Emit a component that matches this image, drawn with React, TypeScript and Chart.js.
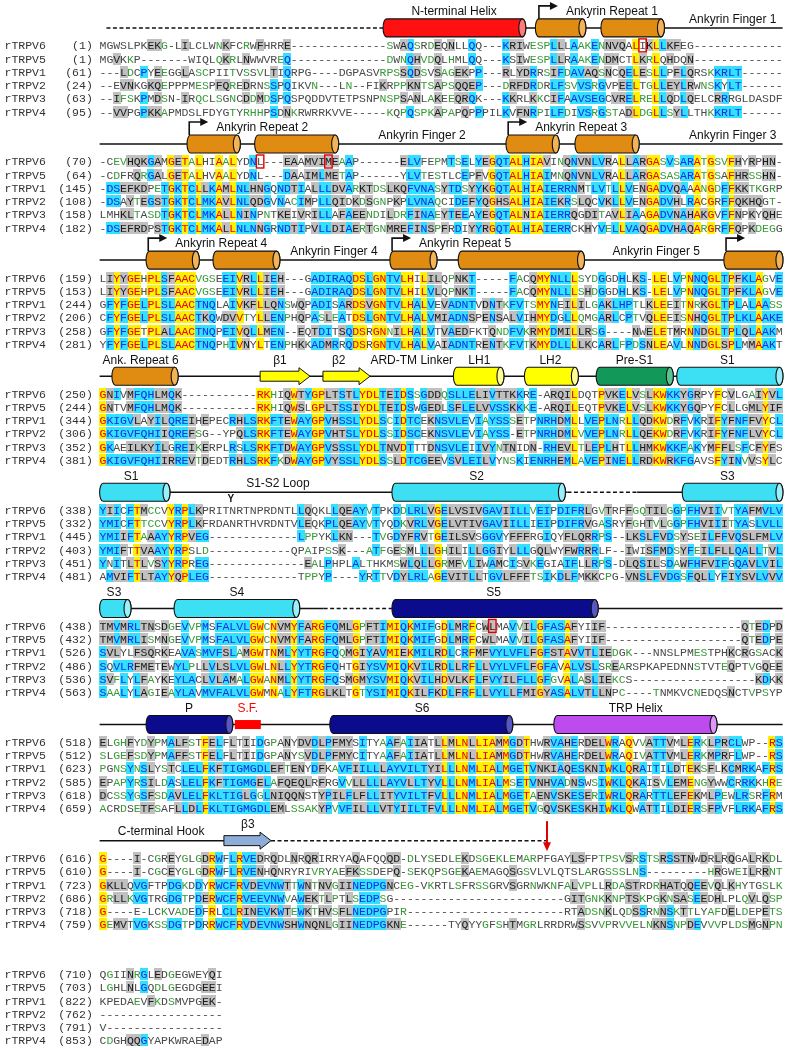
import React, { useEffect, useRef } from 'react';
import { Chart, registerables } from 'chart.js';

Chart.register(...registerables);

const gap = (n: number) => '-'.repeat(n);

// ---------------- DATA ----------------
const NAMES = ['rTRPV6', 'rTRPV5', 'rTRPV1', 'rTRPV2', 'rTRPV3', 'rTRPV4'];

const BLOCK_STARTS = [
  [1, 1, 61, 24, 63, 95],
  [70, 64, 145, 108, 158, 182],
  [159, 153, 244, 206, 258, 281],
  [250, 244, 344, 306, 352, 381],
  [338, 332, 445, 403, 451, 481],
  [438, 432, 526, 486, 536, 563],
  [518, 512, 623, 585, 618, 659],
  [616, 610, 723, 686, 718, 759],
  [710, 703, 822, 762, 791, 853],
];

const BLOCK_WIDTHS = [100, 100, 100, 100, 100, 100, 100, 100, 18];

const TRPV6_SEQ = [
  'MGWSLPKEKG-LILCLWNKFCRWFHRRE' + gap(14) + 'SWAQSRDEQNLLQQ---KRIWESPLLLAAKENNVQALIKLLKFEG' + gap(13),
  '-CEVHQKGAMGETALHIAALYDNL---EAAMVIMEAAP' + gap(6) + 'ELVFEPMTSELYEGQTALHIAVINQNVNLVRALLARGASVSARATGSVFHYRPHN-',
  'LIYYGEHPLSFAACVGSEEIVRLLIEH---GADIRAQDSLGNTVLHILILQPNKT-----FACQMYNLLLSYDGGDHLKS-LELVPNNQGLTPFKLAGVE',
  'GNIVMFQHLMQK' + gap(11) + 'RKHIQWTYGPLTSTLYDLTEIDSSGDDQSLLELIVTTKKRE-ARQILDQTPVKELVSLKWKKYGRPYFCVLGAIYVL',
  'YIICFTMCCVYRPLKPRITNRTNPRDNTLLQQKLLQEAYVTPKDDLRLVGELVSIVGAVIILLVEIPDIFRLGVTRFFGQTILGGPFHVIIVTYAFMVLV',
  'TMVMRLTNSDGEVVPMSFALVLGWCNVMYFARGFQMLGPFTIMIQKMIFGDLMRFCWLMAVVILGFASAFYIIF' + gap(20) + 'QTEDPD',
  'ELGHFYDYPMALFSTFELFLTIIDGPANYDVDLPFMYSITYAAFAIIATLLMLNLLIAMMGDTHWRVAHERDELWRAQVVATTVMLERKLPRCLWP--RS',
  'G----I-CGREYGLGDRWFLRVEDRQDLNRQRIRRYAQAFQQQD-DLYSEDLEKDSGEKLEMARPFGAYLSFPTPSVSRSTSRSSTNWDRLRQGALRKDL',
  'QGIINRGLEDGEGWEYQI',
];

const TRPV5_SEQ = [
  'MGVKKP-------WIQLQKRLNWWVREQ' + gap(14) + 'DWNQHVDQLHMLQQ---KSIWESPLLRAAKENDMCTLKRLQHDQN' + gap(13),
  '-CDFRQRGALGETALHVAALYDNL---DAAIMLMETAP' + gap(6) + 'YLVTESTLCEPFVGQTALHIAIMNQNVNLVRALLARGASASARATGSAFHRSSHN-',
  'LIYYGEHPLSFAACVGSEEIVRLLIEH---GADIRAQDSLGNTVLHILVLQPNKT-----FACQMYNLLLSHDGGDHLKS-LELVPNNQGLTPFKLAGVE',
  'GNTVMFQHLMQK' + gap(11) + 'RKHIQWSLGPLTSSIYDLTEIDSWGEDLSFLELVVSSKKKE-ARQILEQTPVKELVSLKWKKYGQPYFCLLGMLYIF',
  'YMICFTTCCVYRPLKFRDANRTHVRDNTVLEQKPLQEAYVTYQDKVRLVGELVTIVGAVIILLIEIPDIFRVGASRYFGHTVLGGPFHVIIITYASLVLL',
  'TMVMRLISMNGEVVPMSFALVLGWCNVMYFARGFQMLGPFTIMIQKMIFGDLMRFCWLMAVVILGFASAFYIIF' + gap(20) + 'QTEDPE',
  'SLGEFSDYPMAFFSTFELFLTIIDGPANYSVDLPFMYCITYAAFAIIATLLMLNLLIAMMGDTHWRVAHERDELWRAQIVATTVMLERKMPRFLWP--RS',
  'G----I-CGCEYGLGDRWFLRVENHQNRYRIVRYAEFKSSDEPQ-SEKQPSGEKAEMAGQSGSVLVLQTSLARGSSSLNS' + gap(9) + 'HRGWEILRRNT',
  'LGHLNLGQDLGEGDGEEI',
];

const TRPV1_SEQ = [
  '---LDCPYEEGGLASCPIITVSSVLTIQRPG----DGPASVRPSSQDSVSAGEKPP---RLYDRRSIFDAVAQSNCQELESLLPFLQRSKKRLT' + gap(6),
  '-DSEFKDPETGKTCLLKAMLNLHNGQNDTIALLLDVARKTDSLKQFVNASYTDSYYKGQTALHIAIERRNMTLVTLLVENGADVQAAANGDFFKKTKGRP',
  'GFYFGELPLSLAACTNQLAIVKFLLQNSWQPADISARDSVGNTVLHALVEVADNTVDNTKFVTSMYNEILILGAKLHPTLKLEEITNRKGLTPLALAASS',
  'GKIGVLAYILQREIHEPECRHLSRKFTEWAYGPVHSSLYDLSCIDTCEKNSVLEVIAYSSSETPNRHDMLLVEPLNRLLQDKWDRFVKRIFYFNFFVYCL',
  'YMIIFTAAAYYRPVEG' + gap(13) + 'LPPYKLKN---TVGDYFRVTGEILSVSGGVYFFFRGIQYFLQRRPS--LKSLFVDSYSEILFFVQSLFMLV',
  'SVLYLFSQRKEAVASMVFSLAMGWTNMLYYTRGFQQMGIYAVMIEKMILRDLCRFMFVYLVFLFGFSTAVVTLIEDGK---NNSLPMESTPHKCRGSACK',
  'PGNSYNSLYSTCLELFKFTIGMGDLEFTENYDFKAVFIILLLAYVILTYILLLNMLIALMGETVNKIAQESKNIWKLQRAITILDTEKSFLKCMRKAFRS',
  'GKLLQVGFTPDGKDDYRWCFRVDEVNWTTWNTNVGIINEDPGNCEG-VKRTLSFRSSGRVSGRNWKNFALVPLLRDASTRDRHATQQEEVQLKHYTGSLK',
  'KPEDAEVFKDSMVPGEK-',
];

const TRPV2_SEQ = [
  '--EVNKGKQEPPPMESPFQREDRNSSPQIKVN---LN--FIKRPPKNTSAPSQQEP---DRFDRDRLFSVVSRGVPEELTGLLEYLRWNSKYLT' + gap(6),
  '-DSAYTEGSTGKTCLMKAVLNLQDGVNACIMPLLQIDKDSGNPKPLVNAQCIDEFYQGHSALHIAIEKRSLQCVKLLVENGADVHLRACGRFFQKHQGT-',
  'CFYFGELPLSLAACTKQWDVVTYLLENPHQPASLEATDSLGNTVLHALVMIADNSPENSALVIHMYDGLLQMGARLCPTVQLEEISNHQGLTPLKLAAKE',
  'GKIGVFQHIIQREFSG--YPQLSRKFTEWAYGPVHTSLYDLSSIDSCEKNSVLEVIAYSS-ETPNRHDMLVVEPLNRLLQEKWDRFVKRIFYFNFLVYCL',
  'YMIFTTVAAYYRPSLD' + gap(12) + 'QPAIPSSK---ATFGESMLLLGHILILLGGIYLLLGQLWYFWRRRLF--IWISFMDSYFEILFLLQALLTVL',
  'SQVLRFMETEWYLPLLVLSLVLGWLNLLYYTRGFQHTGIYSVMIQKVILRDLLRFLLVYLVFLFGFAVALVSLSREARSPKAPEDNNSTVTEQPTVGQEE',
  'EPAPYRSILDASLELFKFTIGMGELAFQEQLRFRGVVLLLLLAYVLLTYVLLLNMLIALMSETVNHVADNSWSIWKLQKAISVLEMENGYWWCRRKKHRE',
  'GRLLKVGTRGDGTPDERWCFRVEEVNWVAWEKTLPTLSEDPSG' + gap(25) + 'GITGNKKNPTSKPGKNSASEEDHLPLQVLQSP',
  gap(18),
];

const TRPV3_SEQ = [
  '--IFSKPMDSN-IRQCLSGNCDDMDSPQSPQDDVTETPSNPNSPSANLAKEEQRQK---KKRLKKCIFAAVSEGCVRELRELLQDLQELCRRRGLDASDF',
  'LMHKLTASDTGKTCLMKALLNINPNTKEIVRILLAFAEENDILDRFINAEYTEEAYEGQTALNIAIERRQGDITAVLIAAGADVNAHAKGVFFNPKYQHE',
  'GFYFGETPLALAACTNQPEIVQLLMEN--EQTDITSQDSRGNNILHALVTVAEDFKTQNDFVKRMYDMILLRSG----NWELETMRNNDGLTPLQLAAKM',
  'GKAEILKYILGREIKERPLRSLSRKFTDWAYGPVSSSLYDLTNVDTTTDNSVLEIIVYNTNIDN-RHEVLTLEPLHTLLHMKWKKFAKYMFFLSFCFYFS',
  'YNITLTLVSYYRPREG' + gap(14) + 'EALPHPLALTHKMSWLQLLGRMFVLIWAMCISVKEGIAIFLLRPS-DLQSILSDAWFHFVIFGQAVLVIL',
  'SVFLYLFAYKEYLACLVLAMALGWANMLYYTRGFQSMGMYSVMIQKVILHDVLKFLFVYILFLLGFGVALASLIEKCS' + gap(18) + 'KDKK',
  'DCSSYGSFSDAVLELFKLTIGLGGLNIQQNSTYPILFLFLLITYVILTFVLLLNMLIALMGETAENVSKESERIWRLQRARTTLEFEKMLPEWLRSRFRM',
  'G----E-LCKVADEDFRLCLRINEVKWTEWKTHVSFLNEDPGPIR' + gap(23) + 'RTADSNKLQDSSRNNSKTTLYAFDELDEPETS',
  'V' + gap(17),
];

const TRPV4_SEQ = [
  '--VVPGPKKAPMDSLFDYGTYRHHPSDNKRWRRKVVE-----KQPQSPKAPAPQPPPILKVFNRPILFDIVSRGSTADLDGLLSYLLTHKKRLT' + gap(6),
  '-DSEFRDPSTGKTCLMKALLNLNNGRNDTIPVLLDIAERTGNMREFINSPFRDIYYRGQTALHIAIERRCKHYVELLVAQGADVHAQARGRFFQPKDEGG',
  'YFYFGELPLSLAACTNQPHIVNYLTENPHKKADMRRQDSRGNTVLHALVAIADNTRENTKFVTKMYDLLLLKCARLFPDSNLEAVLNNDGLSPLMMAAKT',
  'GKIGVFQHIIRREVTDEDTRHLSRKFKDWAYGPVYSSLYDLSSLDTCGEEVSVLEILVYNSKIENRHEMLAVEPINELLRDKWRKFGAVSFYINVVSYLC',
  'AMVIFTLTAYYQPLEG' + gap(13) + 'TPPYP----YRTTVDYLRLAGEVITLLTGVLFFFTSIKDLFMKKCPG-VNSLFVDGSFQLLYFIYSVLVVV',
  'SAALYLAGIEAYLAVMVFALVLGWMNALYFTRGLKLTGTYSIMIQKILFKDLFRFLLVYLLFMIGYASALVTLLNPC----TNMKVCNEDQSNCTVPSYP',
  'ACRDSETFSAFLLDLFKLTIGMGDLEMLSSAKYPVVFILLLVTYIILTFVLLLNMLIALMGETVGQVSKESKHIWKLQWATTILDIERSFPVFLRKAFRS',
  'GEMVTVGKSSDGTPDRRWCFRVDEVNWSHWNQNLGIINEDPGKNE' + gap(6) + 'TYQYYGFSHTMGRLRRDRWSSVVPRVVELNKNSNPDEVVVPLDSMGNPN',
  'CDGHQQGYAPKWRAEDAP',
];

const SEQUENCES = [TRPV6_SEQ, TRPV5_SEQ, TRPV1_SEQ, TRPV2_SEQ, TRPV3_SEQ, TRPV4_SEQ];

// secondary-structure annotation (block, from column, to column, ...)
const BACKBONE: [number, number, number, boolean][] = [
  [0, 1, 41.5, true], [0, 62.4, 100, false],
  [1, 0, 100, false], [2, 0, 100, false], [3, 0, 100, false],
  [4, 0, 68.5, false], [4, 68.5, 78.7, true], [4, 78.7, 100, false],
  [5, 0, 32.8, false], [5, 32.8, 42.8, true], [5, 42.8, 100, false],
  [6, 0, 100, false],
  [7, 0, 18.2, false], [7, 25.1, 65.5, true],
];

const HELICES: [number, number, number, string][] = [
  [0, 41.5, 62.4, 'nterm'], [0, 63.8, 71.2, 'ank'], [0, 73.4, 82.7, 'ank'],
  [1, 12.8, 20.6, 'ank'], [1, 22.7, 35.0, 'ank'], [1, 59.5, 67.3, 'ank'], [1, 69.6, 79.0, 'ank'],
  [2, 6.8, 14.6, 'ank'], [2, 16.6, 26.4, 'ank'], [2, 42.5, 49.4, 'ank'], [2, 52.5, 71.0, 'ank'], [2, 91.4, 100.05, 'ank'],
  [3, 1.8, 11.5, 'ank'], [3, 51.8, 59.2, 'lh'], [3, 62.2, 70.1, 'lh'], [3, 72.7, 84.0, 'pre'], [3, 84.5, 100.05, 'tm'],
  [4, 0, 10.3, 'tm'], [4, 42.8, 68.2, 'tm'], [4, 85.3, 100.05, 'tm'],
  [5, 0, 4.6, 'tm'], [5, 10.9, 29.3, 'tm'], [5, 42.8, 73.0, 'pore'],
  [6, 6.8, 19.5, 'pore'], [6, 33.7, 60.5, 'pore'], [6, 66.5, 90.4, 'trp'],
];

const STRANDS: [number, number, number, string][] = [
  [3, 23.5, 30.8, 'beta'], [3, 32.7, 39.6, 'beta'], [7, 18.2, 25.1, 'beta3'],
];

const REPEAT_STARTS: [number, number, string][] = [
  [0, 64.1, 'Ankyrin Repeat 1'], [1, 12.9, 'Ankyrin Repeat 2'], [1, 59.6, 'Ankyrin Repeat 3'],
  [2, 6.9, 'Ankyrin Repeat 4'], [2, 42.6, 'Ankyrin Repeat 5'], [2, 91.5, ''],
];

const TOP_LABELS: [number, number, string][] = [
  [0, 51.9, 'N-terminal Helix'],
  [3, 6.0, 'Ank. Repeat 6'], [3, 26.4, 'β1'], [3, 35.0, 'β2'], [3, 45.7, 'ARD-TM Linker'],
  [3, 55.6, 'LH1'], [3, 66.0, 'LH2'], [3, 78.3, 'Pre-S1'], [3, 91.9, 'S1'],
  [4, 4.6, 'S1'], [4, 55.2, 'S2'], [4, 91.9, 'S3'],
  [5, 2.1, 'S3'], [5, 20.1, 'S4'], [5, 57.7, 'S5'],
  [6, 13.1, 'P'], [6, 21.7, 'S.F.'], [6, 47.2, 'S6'], [6, 78.5, 'TRP Helix'],
  [7, 21.7, 'β3'],
];

const MID_LABELS: [number, number, string][] = [
  [0, 92.7, 'Ankyrin Finger 1'], [1, 47.2, 'Ankyrin Finger 2'], [1, 92.7, 'Ankyrin Finger 3'],
  [2, 34.3, 'Ankyrin Finger 4'], [2, 81.5, 'Ankyrin Finger 5'],
  [4, 26.1, 'S1-S2 Loop'], [7, 9.0, 'C-terminal Hook'],
];

const SELECTIVITY_FILTER: [number, number, number][] = [[6, 19.8, 23.6]];
const GLYCOSYLATION: [number, number][] = [[4, 19.2]];
const RED_ARROWS: [number, number][] = [[7, 65.5]];
const RED_BOXES: [number, number, number][] = [[0, 0, 79], [1, 0, 23], [1, 0, 33], [5, 0, 57]];

// ---------------- STYLE / LAYOUT ----------------
const PAGE_W = 787;
const PAGE_H = 1050;
const CHAR_W = 6.9;
const NAME_COLS = 14;
const ROW_H = 13.333;
const FIRST_ROW = 41.7 / ROW_H;
const BLOCK_STEP = 117 / ROW_H;

const MONO = '"Liberation Mono", "DejaVu Sans Mono", monospace';
const SANS = '"Liberation Sans", Arial, sans-serif';

const HELIX_COLORS: Record<string, [string, string]> = {
  nterm: ['#FF1111', '#FF7A7A'],
  ank: ['#E08B12', '#F2B457'],
  lh: ['#FFFF00', '#FFFF9A'],
  pre: ['#12995A', '#5CC48E'],
  tm: ['#3DDFF3', '#9AF0FA'],
  pore: ['#0B0B8E', '#5656C4'],
  trp: ['#BD4BEE', '#DC98F7'],
};
const STRAND_COLORS: Record<string, string> = { beta: '#FFFF00', beta3: '#8EADD8' };

const CELL_BG: Record<string, string> = { Y: '#FFF200', C: '#33E0FF', G: '#C0C0C0' };
const CELL_FG: Record<string, string> = { Y: '#E8000C', C: '#0F2FE0', G: '#1A1A1A', W: '#3A9A3A', '': '#4A4A4A' };

const STRONG = ['STA', 'NEQK', 'NHQK', 'NDEQ', 'QHRK', 'MILV', 'MILF', 'HY', 'FYW'];
const WEAK = ['CSA', 'ATV', 'SAG', 'STNK', 'STPA', 'SGND', 'SNDEQK', 'NDEQHK', 'NEQHRK', 'FVLIM', 'HFY'];

const isRes = (ch: string) => /[A-Z]/.test(ch);
const similar = (a: string, b: string, groups: string[]) => groups.some((g) => g.includes(a) && g.includes(b));

function classify(column: string[]): string[] {
  const res = column.filter(isRes);
  if (res.length === column.length && res.every((c) => c === res[0])) return column.map(() => 'Y');
  const counts: Record<string, number> = {};
  res.forEach((c) => (counts[c] = (counts[c] || 0) + 1));
  let cons = '';
  let max = 0;
  res.forEach((c) => {
    if (counts[c] > max) {
      max = counts[c];
      cons = c;
    }
  });
  return column.map((ch) => {
    if (!isRes(ch)) return '';
    if (max >= 3) {
      if (ch === cons || counts[ch] >= 3) return 'C';
      if (similar(ch, cons, STRONG)) return 'G';
      if (similar(ch, cons, WEAK)) return 'W';
      return '';
    }
    const strong = res.filter((o) => o === ch || similar(o, ch, STRONG)).length;
    const weak = res.filter((o) => o === ch || similar(o, ch, WEAK)).length;
    if (strong >= 3) return 'G';
    if (weak >= 3) return 'W';
    return '';
  });
}

const rowY = (b: number, r: number) => FIRST_ROW + b * BLOCK_STEP + r;
const colX = (c: number) => NAME_COLS + c;

function fitRow(s: string, n: number) {
  if (s.length >= n) return s.slice(0, n);
  return s + gap(n - s.length);
}

function cellImage(color: string) {
  const c = document.createElement('canvas');
  c.width = 8;
  c.height = 12;
  const g = c.getContext('2d')!;
  g.fillStyle = color;
  g.fillRect(0, 0, 8, 12);
  return c;
}

function buildData() {
  const cells: Record<string, { x: number; y: number }[]> = { Y: [], C: [], G: [] };
  const glyphs: { x: number; y: number; ch: string; k: string }[] = [];
  for (let b = 0; b < BLOCK_WIDTHS.length; b++) {
    const w = BLOCK_WIDTHS[b];
    const rows = SEQUENCES.map((s) => fitRow(s[b], w));
    for (let c = 0; c < w; c++) {
      const col = rows.map((r) => r[c]);
      const k = classify(col);
      col.forEach((ch, r) => {
        const x = colX(c) + 0.5;
        const y = rowY(b, r);
        if (cells[k[r]]) cells[k[r]].push({ x, y });
        glyphs.push({ x, y, ch, k: k[r] });
      });
    }
  }
  const datasets = (['G', 'C', 'Y'] as const).map((k) => ({
    label: k,
    data: cells[k],
    pointStyle: cellImage(CELL_BG[k]),
    pointRadius: 4,
    pointHoverRadius: 4,
    pointHitRadius: 0,
    borderWidth: 0,
    backgroundColor: CELL_BG[k],
    showLine: false,
  }));
  return { datasets, glyphs };
}

function drawCylinder(ctx: CanvasRenderingContext2D, x1: number, x2: number, yc: number, h: number, fill: string, cap: string) {
  const ry = h / 2;
  const rx = Math.min(3.5, (x2 - x1) / 4);
  ctx.beginPath();
  ctx.moveTo(x1 + rx, yc - ry);
  ctx.lineTo(x2 - rx, yc - ry);
  ctx.ellipse(x2 - rx, yc, rx, ry, 0, -Math.PI / 2, Math.PI / 2);
  ctx.lineTo(x1 + rx, yc + ry);
  ctx.ellipse(x1 + rx, yc, rx, ry, 0, Math.PI / 2, Math.PI * 1.5);
  ctx.closePath();
  ctx.fillStyle = fill;
  ctx.fill();
  ctx.lineWidth = 1.1;
  ctx.strokeStyle = '#111';
  ctx.stroke();
  ctx.beginPath();
  ctx.ellipse(x2 - rx, yc, rx, ry, 0, 0, Math.PI * 2);
  ctx.fillStyle = cap;
  ctx.fill();
  ctx.stroke();
}

function drawStrand(ctx: CanvasRenderingContext2D, x1: number, x2: number, yc: number, fill: string) {
  const head = Math.min(11, (x2 - x1) * 0.4);
  const sh = 5;
  const hh = 8.5;
  ctx.beginPath();
  ctx.moveTo(x1, yc - sh);
  ctx.lineTo(x2 - head, yc - sh);
  ctx.lineTo(x2 - head, yc - hh);
  ctx.lineTo(x2, yc);
  ctx.lineTo(x2 - head, yc + hh);
  ctx.lineTo(x2 - head, yc + sh);
  ctx.lineTo(x1, yc + sh);
  ctx.closePath();
  ctx.fillStyle = fill;
  ctx.fill();
  ctx.lineWidth = 1;
  ctx.strokeStyle = '#111';
  ctx.stroke();
}

function makePlugin(glyphs: { x: number; y: number; ch: string; k: string }[]) {
  return {
    id: 'alignmentText',
    afterDatasetsDraw(chart: any) {
      const ctx: CanvasRenderingContext2D = chart.ctx;
      const xs = chart.scales.x;
      const ys = chart.scales.y;
      const X = (v: number) => xs.getPixelForValue(v);
      const Y = (v: number) => ys.getPixelForValue(v);
      const base = (b: number) => Y(rowY(b, 0));
      ctx.save();

      BACKBONE.forEach(([b, f, t, dashed]) => {
        const y = base(b) - 17.5;
        ctx.beginPath();
        ctx.setLineDash(dashed ? [4, 2.5] : []);
        ctx.lineWidth = 1.5;
        ctx.strokeStyle = '#111';
        ctx.moveTo(X(colX(f)), y);
        ctx.lineTo(X(colX(t)), y);
        ctx.stroke();
      });
      ctx.setLineDash([]);

      HELICES.forEach(([b, f, t, kind]) => {
        const [fill, cap] = HELIX_COLORS[kind];
        drawCylinder(ctx, X(colX(f)), X(colX(t)), base(b) - 17.5, 18, fill, cap);
      });

      STRANDS.forEach(([b, f, t, kind]) => {
        drawStrand(ctx, X(colX(f)), X(colX(t)), base(b) - 17.5, STRAND_COLORS[kind]);
      });

      SELECTIVITY_FILTER.forEach(([b, f, t]) => {
        ctx.fillStyle = '#FF0000';
        const y = base(b) - 17.5;
        ctx.fillRect(X(colX(f)), y - 4.5, X(colX(t)) - X(colX(f)), 9);
      });

      ctx.font = `12px ${SANS}`;
      ctx.textBaseline = 'alphabetic';
      REPEAT_STARTS.forEach(([b, c, label]) => {
        const y0 = base(b);
        const ax = X(colX(c)) + 1.5;
        ctx.beginPath();
        ctx.lineWidth = 1.6;
        ctx.strokeStyle = '#111';
        ctx.moveTo(ax, y0 - 26.5);
        ctx.lineTo(ax, y0 - 39.5);
        ctx.lineTo(ax + 12, y0 - 39.5);
        ctx.stroke();
        ctx.beginPath();
        ctx.fillStyle = '#111';
        ctx.moveTo(ax + 11, y0 - 43.5);
        ctx.lineTo(ax + 19, y0 - 39.5);
        ctx.lineTo(ax + 11, y0 - 35.5);
        ctx.closePath();
        ctx.fill();
        if (label) {
          ctx.textAlign = 'left';
          ctx.fillText(label, ax + 27, y0 - 34.5 + 4.3);
        }
      });

      ctx.textAlign = 'center';
      TOP_LABELS.forEach(([b, c, label]) => {
        ctx.fillStyle = label === 'S.F.' ? '#FF0000' : '#111';
        ctx.fillText(label, X(colX(c)), base(b) - 34.5 + 4.3);
      });
      ctx.fillStyle = '#111';
      MID_LABELS.forEach(([b, c, label]) => {
        ctx.fillText(label, X(colX(c)), base(b) - 27 + 4.3);
      });

      ctx.font = `bold 10px ${SANS}`;
      GLYCOSYLATION.forEach(([b, c]) => {
        ctx.fillText('Y', X(colX(c)), base(b) - 11 + 3.5);
      });

      RED_ARROWS.forEach(([b, c]) => {
        const x = X(colX(c));
        const y0 = base(b);
        ctx.beginPath();
        ctx.strokeStyle = '#E00000';
        ctx.lineWidth = 2;
        ctx.moveTo(x, y0 - 37);
        ctx.lineTo(x, y0 - 15);
        ctx.stroke();
        ctx.beginPath();
        ctx.fillStyle = '#E00000';
        ctx.moveTo(x - 4, y0 - 16);
        ctx.lineTo(x + 4, y0 - 16);
        ctx.lineTo(x, y0 - 7);
        ctx.closePath();
        ctx.fill();
      });

      ctx.font = `11.5px ${MONO}`;
      ctx.fillStyle = '#333';
      BLOCK_STARTS.forEach((nums, b) => {
        nums.forEach((n, r) => {
          const y = Y(rowY(b, r)) + 4;
          ctx.textAlign = 'left';
          ctx.fillText(NAMES[r], X(0) + 0.5, y);
          ctx.textAlign = 'right';
          ctx.fillText(`(${n})`, X(NAME_COLS - 1), y);
        });
      });

      ctx.textAlign = 'center';
      glyphs.forEach((g) => {
        ctx.fillStyle = CELL_FG[g.k] || CELL_FG[''];
        ctx.fillText(g.ch, X(g.x), Y(g.y) + 4);
      });

      ctx.strokeStyle = '#E00000';
      ctx.lineWidth = 1.4;
      RED_BOXES.forEach(([b, r, c]) => {
        const x1 = X(colX(c));
        const x2 = X(colX(c + 1));
        const y = Y(rowY(b, r));
        ctx.strokeRect(x1 - 0.3, y - 6.5, x2 - x1 + 0.6, 13);
      });

      ctx.restore();
    },
  };
}

export default function App() {
  const ref = useRef<HTMLCanvasElement>(null);
  useEffect(() => {
    const canvas = ref.current;
    if (!canvas) return;
    const { datasets, glyphs } = buildData();
    const chart = new Chart(canvas, {
      type: 'scatter',
      data: { datasets: datasets as any },
      options: {
        responsive: false,
        maintainAspectRatio: false,
        animation: false,
        devicePixelRatio: 1,
        events: [],
        layout: { padding: 0 },
        scales: {
          x: { type: 'linear', min: 0, max: PAGE_W / CHAR_W, display: false },
          y: { type: 'linear', min: 0, max: PAGE_H / ROW_H, reverse: true, display: false },
        },
        plugins: { legend: { display: false }, tooltip: { enabled: false } },
      } as any,
      plugins: [makePlugin(glyphs)],
    });
    let alive = true;
    const fonts: any = (document as any).fonts;
    if (fonts && fonts.load) {
      Promise.all([
        fonts.load(`11.5px ${MONO}`),
        fonts.load(`12px ${SANS}`),
        fonts.load(`bold 10px ${SANS}`),
      ])
        .then(() => {
          if (alive) chart.update();
        })
        .catch(() => {});
    }
    return () => {
      alive = false;
      chart.destroy();
    };
  }, []);
  return (
    <div style={{ position: 'absolute', left: 0, top: 0, width: PAGE_W, height: PAGE_H, background: '#fff' }}>
      <canvas ref={ref} width={PAGE_W} height={PAGE_H} style={{ display: 'block', width: PAGE_W, height: PAGE_H }} />
    </div>
  );
}
